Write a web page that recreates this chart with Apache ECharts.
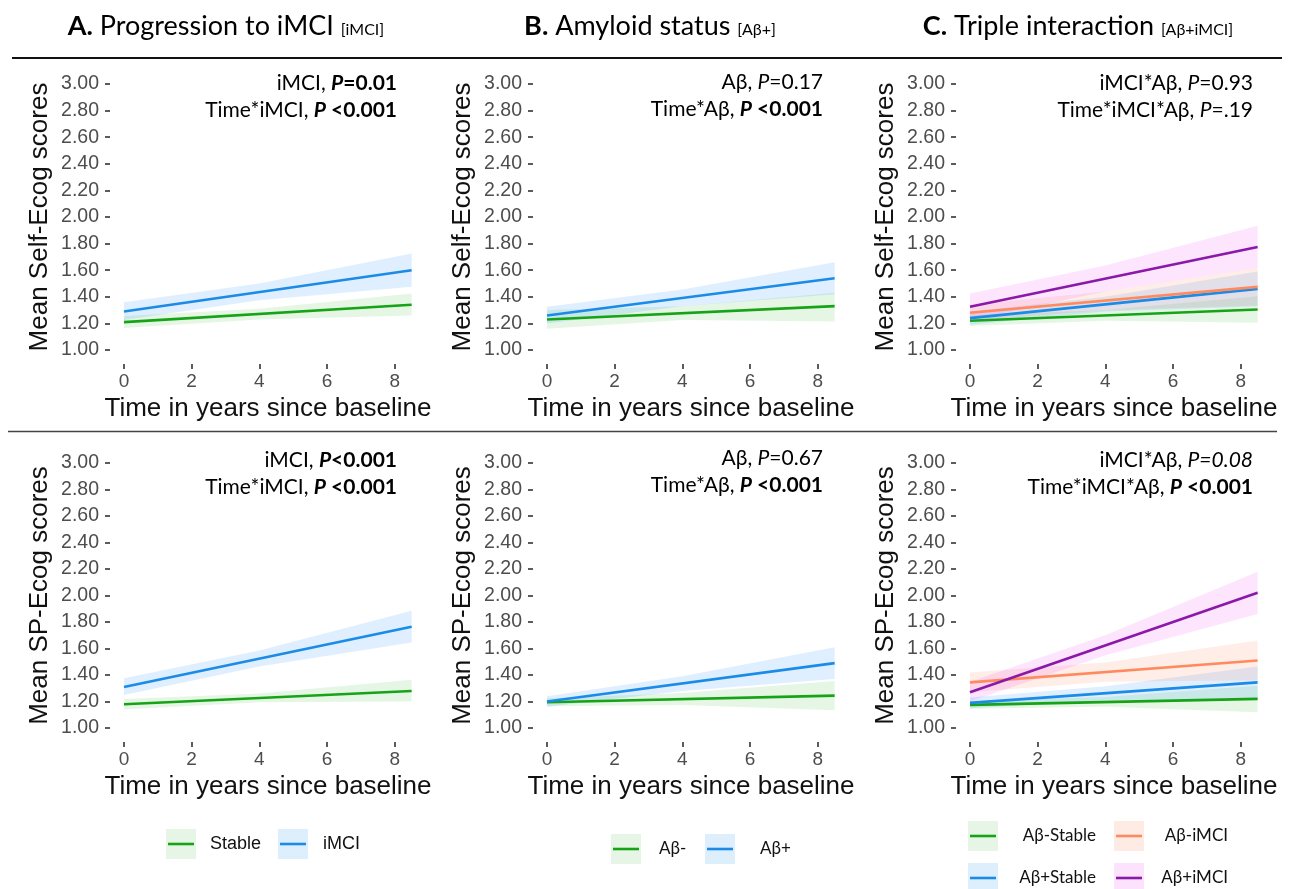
<!DOCTYPE html>
<html>
<head>
<meta charset="utf-8">
<script src="https://cdn.jsdelivr.net/npm/echarts@6/dist/echarts.min.js"></script>
<style>
html,body{margin:0;padding:0;background:#fff;}
#chart{width:1291px;height:889px;}
</style>
</head>
<body>
<div id="chart"></div>
<script>
// ---------------- DATA ----------------
const xTicks = [0, 2, 4, 6, 8];
const yTicks = [1.00, 1.20, 1.40, 1.60, 1.80, 2.00, 2.20, 2.40, 2.60, 2.80, 3.00];
const timeLine = [0, 8.5];        // fitted lines: start / end time
const timeBand = [0, 4, 8.5];     // confidence band sample times

// Panel A (top: Self-Ecog) -- Stable / iMCI
const aSelfStable = [1.21, 1.34];
const aSelfStableLo = [1.165, 1.23, 1.26];
const aSelfStableHi = [1.255, 1.31, 1.425];
const aSelfIMCI = [1.29, 1.60];
const aSelfIMCILo = [1.225, 1.375, 1.475];
const aSelfIMCIHi = [1.36, 1.50, 1.725];

// Panel B (top) -- Aβ- / Aβ+
const bSelfNeg = [1.23, 1.33];
const bSelfNegLo = [1.16, 1.225, 1.215];
const bSelfNegHi = [1.30, 1.33, 1.43];
const bSelfPos = [1.26, 1.54];
const bSelfPosLo = [1.20, 1.33, 1.42];
const bSelfPosHi = [1.325, 1.455, 1.66];

// Panel C (top) -- Aβ-Stable / Aβ-iMCI / Aβ+Stable / Aβ+iMCI
const cSelfNS = [1.22, 1.305];
const cSelfNSLo = [1.18, 1.22, 1.205];
const cSelfNSHi = [1.26, 1.30, 1.405];
const cSelfNI = [1.28, 1.475];
const cSelfNILo = [1.22, 1.30, 1.335];
const cSelfNIHi = [1.34, 1.44, 1.615];
const cSelfPS = [1.24, 1.46];
const cSelfPSLo = [1.19, 1.29, 1.33];
const cSelfPSHi = [1.29, 1.40, 1.59];
const cSelfPI = [1.325, 1.775];
const cSelfPILo = [1.225, 1.44, 1.615];
const cSelfPIHi = [1.425, 1.635, 1.935];

// Panel A (bottom: SP-Ecog)
const aSPStable = [1.18, 1.28];
const aSPStableLo = [1.14, 1.195, 1.20];
const aSPStableHi = [1.22, 1.26, 1.365];
const aSPIMCI = [1.31, 1.765];
const aSPIMCILo = [1.25, 1.465, 1.645];
const aSPIMCIHi = [1.375, 1.585, 1.885];

// Panel B (bottom)
const bSPNeg = [1.195, 1.245];
const bSPNegLo = [1.165, 1.175, 1.135];
const bSPNegHi = [1.225, 1.265, 1.355];
const bSPPos = [1.20, 1.49];
const bSPPosLo = [1.16, 1.28, 1.37];
const bSPPosHi = [1.24, 1.39, 1.61];

// Panel C (bottom)
const cSPNS = [1.175, 1.22];
const cSPNSLo = [1.145, 1.16, 1.12];
const cSPNSHi = [1.205, 1.235, 1.32];
const cSPNI = [1.345, 1.51];
const cSPNILo = [1.27, 1.35, 1.36];
const cSPNIHi = [1.42, 1.495, 1.66];
const cSPPS = [1.19, 1.345];
const cSPPSLo = [1.15, 1.21, 1.225];
const cSPPSHi = [1.23, 1.315, 1.465];
const cSPPI = [1.27, 2.02];
const cSPPILo = [1.20, 1.55, 1.86];
const cSPPIHi = [1.35, 1.70, 2.18];

// ---------------- STYLE ----------------
const C = {
  green: '#16a316', blue: '#1a8be6', orange: '#ff8a5e', purple: '#8a18a8',
  greenBand: 'rgba(0,165,0,0.10)', blueBand: 'rgba(30,144,255,0.14)',
  orangeBand: 'rgba(255,130,90,0.14)', purpleBand: 'rgba(240,80,240,0.15)',
  greenKey: '#e6f5e6', blueKey: '#ddeefc', orangeKey: '#fdebe4', purpleKey: '#fce2fc'
};
const TICK_FONT = 'Liberation Sans, Arial, sans-serif';
const TXT_FONT = 'Lato, Carlito, sans-serif';

// panel frame (ggplot-like expanded panel; axes sit on its edges)
const colLeft = [110, 533, 956];
const rowTop = [70, 449];
const rowH = [294, 293];
const GW = 316;
const X_RANGE = [-0.413, 8.925];
const Y_RANGE = [0.895, 3.105];

const panels = [
  {col:0,row:0,ytitle:'Mean Self-Ecog scores', s:[
    [aSelfStable,aSelfStableLo,aSelfStableHi,'green'],
    [aSelfIMCI,aSelfIMCILo,aSelfIMCIHi,'blue']]},
  {col:1,row:0,ytitle:'Mean Self-Ecog scores', s:[
    [bSelfNeg,bSelfNegLo,bSelfNegHi,'green'],
    [bSelfPos,bSelfPosLo,bSelfPosHi,'blue']]},
  {col:2,row:0,ytitle:'Mean Self-Ecog scores', s:[
    [cSelfNS,cSelfNSLo,cSelfNSHi,'green'],
    [cSelfPS,cSelfPSLo,cSelfPSHi,'blue'],
    [cSelfNI,cSelfNILo,cSelfNIHi,'orange'],
    [cSelfPI,cSelfPILo,cSelfPIHi,'purple']]},
  {col:0,row:1,ytitle:'Mean SP-Ecog scores', s:[
    [aSPStable,aSPStableLo,aSPStableHi,'green'],
    [aSPIMCI,aSPIMCILo,aSPIMCIHi,'blue']]},
  {col:1,row:1,ytitle:'Mean SP-Ecog scores', s:[
    [bSPNeg,bSPNegLo,bSPNegHi,'green'],
    [bSPPos,bSPPosLo,bSPPosHi,'blue']]},
  {col:2,row:1,ytitle:'Mean SP-Ecog scores', s:[
    [cSPNS,cSPNSLo,cSPNSHi,'green'],
    [cSPPS,cSPPSLo,cSPPSHi,'blue'],
    [cSPNI,cSPNILo,cSPNIHi,'orange'],
    [cSPPI,cSPPILo,cSPPIHi,'purple']]}
];

const grids = [], xAxes = [], yAxes = [], series = [];
panels.forEach((p, i) => {
  grids.push({left: colLeft[p.col], top: rowTop[p.row], width: GW, height: rowH[p.row]});
  xAxes.push({
    gridIndex: i, type: 'value', min: X_RANGE[0], max: X_RANGE[1], position: 'bottom',
    axisLine: {show: false, onZero: false},
    axisTick: {show: true, length: 5, customValues: xTicks, lineStyle: {color: '#333', width: 1.6}},
    axisLabel: {customValues: xTicks, color: '#4d4d4d', fontSize: 19, fontFamily: TICK_FONT, margin: 8},
    splitLine: {show: false},
    name: 'Time in years since baseline', nameLocation: 'middle', nameGap: 32,
    nameTextStyle: {fontSize: 26, color: '#111', fontFamily: TICK_FONT}
  });
  yAxes.push({
    gridIndex: i, type: 'value', min: Y_RANGE[0], max: Y_RANGE[1], position: 'left',
    axisLine: {show: false, onZero: false},
    axisTick: {show: true, length: 5, customValues: yTicks, lineStyle: {color: '#333', width: 1.6}},
    axisLabel: {customValues: yTicks, color: '#4d4d4d', fontSize: 19.5, fontFamily: TICK_FONT, margin: 11,
      formatter: v => v.toFixed(2)},
    splitLine: {show: false},
    name: p.ytitle, nameLocation: 'middle', nameGap: 57,
    nameTextStyle: {fontSize: 26, color: '#111', fontFamily: TICK_FONT}
  });
  p.s.forEach(([line, lo, hi, col]) => {
    series.push({
      type: 'custom', xAxisIndex: i, yAxisIndex: i, silent: true, z: 1,
      data: [[timeBand[0], lo[0]]],
      renderItem: (params, api) => {
        const pts = [];
        for (let k = 0; k < timeBand.length; k++) pts.push(api.coord([timeBand[k], hi[k]]));
        for (let k = timeBand.length - 1; k >= 0; k--) pts.push(api.coord([timeBand[k], lo[k]]));
        return {type: 'polygon', shape: {points: pts}, style: {fill: C[col + 'Band']}};
      }
    });
  });
  p.s.forEach(([line, lo, hi, col]) => {
    series.push({
      type: 'line', xAxisIndex: i, yAxisIndex: i, z: 3, silent: true,
      showSymbol: false, symbol: 'none',
      data: timeLine.map((t, k) => [t, line[k]]),
      lineStyle: {color: C[col], width: 2.6}
    });
  });
});

// ---------------- TEXT / DECORATION ----------------
const graphic = [];
const titleRich = {
  b: {fontFamily: TXT_FONT, fontWeight: 'bold', fontSize: 27, fill: '#000', lineHeight: 32, verticalAlign: 'bottom'},
  r: {fontFamily: TXT_FONT, fontSize: 27, fill: '#000', lineHeight: 32, verticalAlign: 'bottom'},
  s: {fontFamily: TXT_FONT, fontSize: 16, fill: '#000', lineHeight: 32, verticalAlign: 'bottom', padding: [0, 0, 2, 0]}
};
[['A.', 'Progression to iMCI', '[iMCI]', 226],
 ['B.', 'Amyloid status', '[Aβ+]', 650],
 ['C.', 'Triple interaction', '[Aβ+iMCI]', 1078]].forEach(([a, b, c, x]) => {
  graphic.push({type: 'text', x: x, y: 24, style: {
    text: '{b|' + a + '}{r| ' + b + ' }{s|' + c + '}', rich: titleRich,
    align: 'center', verticalAlign: 'middle'}});
});
graphic.push({type: 'line', shape: {x1: 12, y1: 58, x2: 1282, y2: 58}, style: {stroke: '#111', lineWidth: 2}});
graphic.push({type: 'line', shape: {x1: 8, y1: 431.5, x2: 1277, y2: 431.5}, style: {stroke: '#444', lineWidth: 1.5}});

const AF = 21;
const annRich = {
  n: {fontFamily: TXT_FONT, fontSize: AF, fill: '#000'},
  i: {fontFamily: TXT_FONT, fontSize: AF, fontStyle: 'italic', fill: '#000'},
  b: {fontFamily: TXT_FONT, fontSize: AF, fontWeight: 'bold', fill: '#000'},
  bi: {fontFamily: TXT_FONT, fontSize: AF, fontWeight: 'bold', fontStyle: 'italic', fill: '#000'}
};
const annotations = [
  [397, 83, '{n|iMCI, }{bi|P}{b|=0.01}', '{n|Time*iMCI, }{bi|P}{b| <0.001}'],
  [823, 82, '{n|Aβ, }{i|P}{n|=0.17}', '{n|Time*Aβ, }{bi|P}{b| <0.001}'],
  [1253, 83, '{n|iMCI*Aβ, }{i|P}{n|=0.93}', '{n|Time*iMCI*Aβ, }{i|P}{n|=.19}'],
  [397, 460, '{n|iMCI, }{bi|P}{b|<0.001}', '{n|Time*iMCI, }{bi|P}{b| <0.001}'],
  [823, 458, '{n|Aβ, }{i|P}{n|=0.67}', '{n|Time*Aβ, }{bi|P}{b| <0.001}'],
  [1253, 460, '{n|iMCI*Aβ, }{i|P=0.08}', '{n|Time*iMCI*Aβ, }{bi|P}{b| <0.001}']
];
annotations.forEach(([x, y, l1, l2]) => {
  graphic.push({type: 'text', x: x, y: y, z: 10, style: {text: l1, rich: annRich, align: 'right', verticalAlign: 'middle'}});
  graphic.push({type: 'text', x: x, y: y + 27, z: 10, style: {text: l2, rich: annRich, align: 'right', verticalAlign: 'middle'}});
});

// legends
function legendKey(x, yc, col) {
  graphic.push({type: 'rect', shape: {x: x, y: yc - 15, width: 30, height: 30}, style: {fill: C[col + 'Key']}});
  graphic.push({type: 'line', shape: {x1: x + 2, y1: yc, x2: x + 28, y2: yc}, style: {stroke: C[col], lineWidth: 2.6}});
}
function legendText(x, yc, txt, align, font, size) {
  graphic.push({type: 'text', x: x, y: yc, style: {text: txt, fill: '#111', fontFamily: font, fontSize: size,
    align: align, verticalAlign: 'middle'}});
}
const legA = ['Stable', 'iMCI'];
const legB = ['Aβ-', 'Aβ+'];
const legC = ['Aβ-Stable', 'Aβ-iMCI', 'Aβ+Stable', 'Aβ+iMCI'];
legendKey(166, 844, 'green'); legendText(210, 844, legA[0], 'left', TICK_FONT, 18);
legendKey(278, 844, 'blue'); legendText(323, 844, legA[1], 'left', TICK_FONT, 18);
legendKey(611, 849, 'green'); legendText(659, 849, legB[0], 'left', TXT_FONT, 17);
legendKey(705, 849, 'blue'); legendText(760, 849, legB[1], 'left', TXT_FONT, 17);
legendKey(968, 836, 'green'); legendText(1096, 836, legC[0], 'right', TXT_FONT, 17);
legendKey(1114, 836, 'orange'); legendText(1228, 836, legC[1], 'right', TXT_FONT, 17);
legendKey(968, 878, 'blue'); legendText(1096, 878, legC[2], 'right', TXT_FONT, 17);
legendKey(1114, 878, 'purple'); legendText(1228, 878, legC[3], 'right', TXT_FONT, 17);

const chart = echarts.init(document.getElementById('chart'), null, {renderer: 'canvas'});
chart.setOption({
  backgroundColor: '#fff',
  animation: false,
  grid: grids, xAxis: xAxes, yAxis: yAxes, series: series, graphic: graphic
});
</script>
</body>
</html>
